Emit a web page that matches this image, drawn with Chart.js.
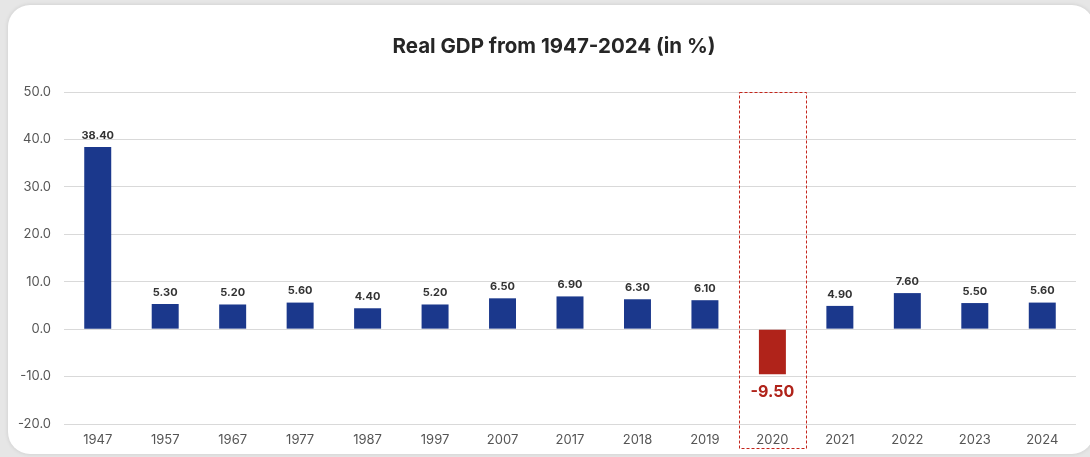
<!DOCTYPE html>
<html>
<head>
<meta charset="utf-8">
<script src="https://cdn.jsdelivr.net/npm/chart.js@4"></script>
<style>
  html, body { margin: 0; padding: 0; width: 1090px; height: 457px; overflow: hidden; background: #e6e6e6; }
  #card { position: absolute; left: 8px; top: 5px; width: 1086px; height: 449px; background: #ffffff; border-radius: 22px; box-shadow: 0 0 4px rgba(0,0,0,0.12); }
  #wrap { position: absolute; left: 0; top: 0; width: 1090px; height: 457px; }
</style>
</head>
<body>
<div id="card"></div>
<div id="wrap"><canvas id="c" width="1090" height="457"></canvas></div>
<script>
const categories = ["1947","1957","1967","1977","1987","1997","2007","2017","2018","2019","2020","2021","2022","2023","2024"];
const gdpValues = [38.40, 5.30, 5.20, 5.60, 4.40, 5.20, 6.50, 6.90, 6.30, 6.10, -9.50, 4.90, 7.60, 5.50, 5.60];
const highlightCategory = "2020";
const chartTitle = "Real GDP from 1947-2024 (in %)";

const BLUE = "#1b388c";
const RED = "#b0231a";
const FONT = "Inter, 'Open Sans', sans-serif";

const barColors = categories.map(c => c === highlightCategory ? RED : BLUE);

// Title centred on the card (card spans x 8..1100)
const cardTitle = {
  id: "cardTitle",
  afterDraw(chart) {
    const ctx = chart.ctx;
    ctx.save();
    ctx.font = "bold 20.5px " + FONT;
    ctx.fillStyle = "#262626";
    ctx.textAlign = "center";
    ctx.textBaseline = "middle";
    ctx.fillText(chartTitle, 554, 47);
    ctx.restore();
  }
};

const valueLabels = {
  id: "valueLabels",
  afterDatasetsDraw(chart) {
    const ctx = chart.ctx;
    const meta = chart.getDatasetMeta(0);
    ctx.save();
    ctx.textAlign = "center";
    meta.data.forEach((bar, i) => {
      const v = gdpValues[i];
      if (v >= 0) {
        ctx.font = "bold 11px " + FONT;
        ctx.fillStyle = "#333333";
        ctx.textBaseline = "bottom";
        ctx.fillText(v.toFixed(2), bar.x, bar.y - 6);
      } else {
        ctx.font = "bold 16px " + FONT;
        ctx.fillStyle = RED;
        ctx.textBaseline = "top";
        ctx.fillText(v.toFixed(2), bar.x, bar.y + 10);
      }
    });
    ctx.restore();
  }
};

const highlightBox = {
  id: "highlightBox",
  afterDraw(chart) {
    const x = chart.scales.x;
    const idx = categories.indexOf(highlightCategory);
    const step = (x.right - x.left) / categories.length;
    const cx = x.getPixelForValue(idx);
    const ctx = chart.ctx;
    ctx.save();
    ctx.strokeStyle = "#c4261d";
    ctx.lineWidth = 1;
    ctx.setLineDash([3, 2]);
    const left = Math.round(cx - step / 2) + 0.5;
    const right = Math.round(cx + step / 2) + 0.5;
    const top = Math.round(chart.chartArea.top) + 0.5;
    const bottom = Math.round(chart.chartArea.bottom + 24) + 0.5;
    ctx.strokeRect(left, top, right - left, bottom - top);
    ctx.restore();
  }
};

new Chart(document.getElementById("c"), {
  type: "bar",
  data: {
    labels: categories,
    datasets: [{
      data: gdpValues,
      backgroundColor: barColors,
      borderWidth: 0,
      categoryPercentage: 0.8,
      barPercentage: 0.5
    }]
  },
  options: {
    responsive: false,
    animation: false,
    devicePixelRatio: 1,
    layout: { padding: { left: 0, right: 14, top: 92, bottom: 0 } },
    plugins: {
      legend: { display: false },
      tooltip: { enabled: false },
      title: { display: false }
    },
    scales: {
      x: {
        grid: { display: false, drawTicks: false },
        border: { display: false },
        ticks: { color: "#555555", font: { family: FONT, size: 13 }, padding: 8 },
        afterFit(s) { s.height = 33; }
      },
      y: {
        min: -20, max: 50,
        grid: { color: "#d9d9d9", lineWidth: 1, drawTicks: false },
        border: { display: false },
        ticks: {
          stepSize: 10,
          color: "#555555",
          font: { family: FONT, size: 13 },
          padding: 13,
          callback: v => Number(v).toFixed(1)
        },
        afterFit(s) { s.width = 64; }
      }
    }
  },
  plugins: [valueLabels, highlightBox, cardTitle]
});
</script>
</body>
</html>
